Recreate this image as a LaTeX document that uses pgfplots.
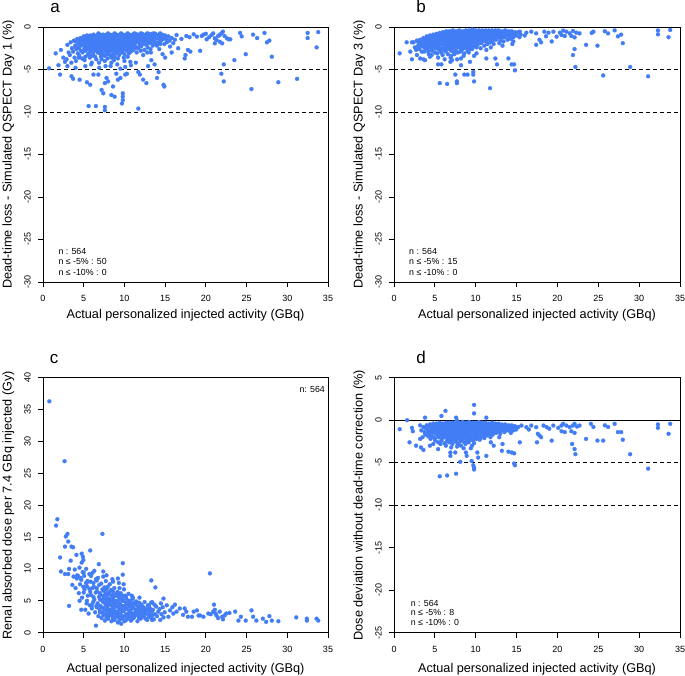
\documentclass[border=0pt]{standalone}
\usepackage{fontspec}
\setmainfont{Liberation Sans}
\usepackage{pgfplots}
\pgfplotsset{compat=1.18}
\usepackage{pgfplotstable}
\definecolor{pt}{RGB}{66,125,245}

% Panel a
\pgfplotstableread[row sep=\\]{x y\\
0.74 -4.86\\ 1.56 -3.1\\ 1.9 -4.5\\ 2.2 -2.7\\ 2.1 -5.6\\ 2.7 -4.1\\ 2.5 -3.6\\ 3.0 -4.6\\ 3.5 -5.8\\ 3.7 -6.1\\ 4.0 -4.8\\ 4.5 -6.2\\ 5.2 -4.6\\ 5.4 -6.5\\ 5.8 -6.8\\ 5.6 -9.3\\ 6.5 -9.3\\ 6.2 -5.6\\ 6.8 -5.6\\ 6.0 -4.2\\ 6.9 -4.8\\ 7.2 -7.4\\ 7.4 -7.8\\ 7.8 -6.0\\ 8.0 -6.4\\ 7.6 -6.6\\ 7.6 -9.4\\ 7.6 -9.8\\ 8.4 -8.0\\ 8.8 -8.2\\ 8.6 -7.0\\ 8.3 -4.6\\ 9.2 -6.2\\ 9.5 -6.0\\ 9.5 -4.9\\ 9.8 -7.8\\ 9.8 -8.2\\ 9.8 -8.6\\ 9.7 -9.0\\ 9.0 -5.5\\ 10.3 -5.5\\ 10.1 -4.7\\ 10.1 -5.6\\ 10.8 -4.5\\ 11.4 -4.2\\ 11.7 -9.6\\ 11.7 -5.3\\ 11.9 -5.6\\ 12.3 -6.2\\ 12.7 -6.6\\ 12.9 -4.6\\ 13.3 -3.9\\ 13.7 -4.4\\ 14.0 -6.0\\ 14.2 -5.3\\ 14.8 -6.8\\ 14.9 -7.0\\ 15.0 -3.6\\ 15.6 -2.3\\ 15.8 -3.0\\ 16.6 -2.5\\ 16.2 -1.5\\ 17.0 -1.4\\ 17.4 -3.7\\ 17.5 -3.3\\ 17.8 -2.7\\ 18.1 -2.9\\ 19.3 -2.8\\ 19.7 -0.9\\ 21.9 -5.5\\ 22.2 -6.4\\ 22.2 -4.4\\ 23.5 -3.9\\ 24.9 -3.2\\ 25.6 -7.3\\ 25.8 -0.9\\ 26.3 -1.3\\ 27.2 -0.7\\ 27.5 -1.8\\ 27.8 -1.6\\ 28.1 -3.5\\ 28.9 -6.5\\ 31.2 -6.1\\ 32.5 -0.7\\ 32.5 -1.3\\ 33.6 -2.4\\ 33.8 -0.6\\ 24.2 -0.7\\ 24.4 -1.1\\
16.4 -0.94\\ 17.6 -1.06\\ 18.5 -0.86\\ 18.9 -1.14\\ 19.5 -1.06\\ 20.1 -1.45\\ 20.4 -1.2\\ 20.7 -0.94\\ 20.9 -0.75\\ 21.1 -1.33\\ 21.3 -1.53\\ 21.5 -1.06\\ 21.7 -0.94\\ 21.9 -0.75\\ 22.1 -0.55\\ 22.3 -1.06\\ 22.6 -1.33\\ 22.8 -1.45\\ 21.1 -1.92\\ 22.0 -1.92\\ 21.7 -1.73\\ 23.0 -1.45\\ 18.0 -1.2\\ 20.0 -0.8\\
3.0 -2.1\\ 3.15 -3.0\\ 2.9 -3.8\\ 3.4 -1.8\\ 3.55 -2.5\\ 3.3 -3.3\\ 3.48 -4.2\\ 3.8 -1.6\\ 3.95 -2.2\\ 3.7 -2.9\\ 3.88 -3.6\\ 4.2 -1.4\\ 4.35 -2.0\\ 4.1 -2.6\\ 4.28 -3.1\\ 4.05 -4.0\\ 4.6 -1.3\\ 4.75 -1.8\\ 4.5 -2.3\\ 4.68 -2.8\\ 4.45 -3.4\\ 5.0 -1.1\\ 5.15 -1.5\\ 4.9 -2.0\\ 5.08 -2.5\\ 4.85 -3.0\\ 5.1 -3.9\\ 5.4 -1.0\\ 5.55 -1.4\\ 5.3 -1.9\\ 5.48 -2.3\\ 5.25 -2.7\\ 5.5 -3.3\\ 5.8 -1.0\\ 5.95 -1.3\\ 5.7 -1.7\\ 5.88 -2.1\\ 5.65 -2.5\\ 5.9 -2.9\\ 5.75 -3.6\\ 5.92 -4.4\\ 6.2 -0.9\\ 6.35 -1.2\\ 6.1 -1.6\\ 6.28 -2.0\\ 6.05 -2.4\\ 6.3 -2.8\\ 6.15 -3.2\\ 6.6 -1.0\\ 6.75 -1.3\\ 6.5 -1.7\\ 6.68 -2.1\\ 6.45 -2.5\\ 6.7 -3.0\\ 6.55 -3.8\\ 7.0 -0.9\\ 7.15 -1.2\\ 6.9 -1.5\\ 7.08 -1.9\\ 6.85 -2.3\\ 7.1 -2.7\\ 6.95 -3.1\\ 7.12 -3.5\\ 6.88 -4.2\\ 7.4 -0.9\\ 7.55 -1.3\\ 7.3 -1.6\\ 7.48 -2.0\\ 7.25 -2.4\\ 7.5 -2.8\\ 7.35 -3.3\\ 7.8 -0.9\\ 7.95 -1.2\\ 7.7 -1.5\\ 7.88 -1.8\\ 7.65 -2.2\\ 7.9 -2.6\\ 7.75 -3.0\\ 7.92 -3.7\\ 7.68 -4.6\\ 8.2 -0.9\\ 8.35 -1.1\\ 8.1 -1.4\\ 8.28 -1.7\\ 8.05 -2.1\\ 8.3 -2.5\\ 8.15 -2.9\\ 8.32 -3.4\\ 8.6 -0.9\\ 8.75 -1.2\\ 8.5 -1.6\\ 8.68 -2.0\\ 8.45 -2.4\\ 8.7 -2.8\\ 8.55 -3.2\\ 8.72 -3.9\\ 9.0 -0.9\\ 9.15 -1.1\\ 8.9 -1.4\\ 9.08 -1.8\\ 8.85 -2.2\\ 9.1 -2.6\\ 8.95 -3.1\\ 9.12 -4.4\\ 9.4 -0.9\\ 9.55 -1.2\\ 9.3 -1.5\\ 9.48 -1.9\\ 9.25 -2.3\\ 9.5 -2.7\\ 9.35 -3.3\\ 9.8 -0.9\\ 9.95 -1.1\\ 9.7 -1.4\\ 9.88 -1.7\\ 9.65 -2.1\\ 9.9 -2.5\\ 9.75 -2.9\\ 9.92 -3.6\\ 10.2 -0.9\\ 10.35 -1.2\\ 10.1 -1.6\\ 10.28 -2.0\\ 10.05 -2.4\\ 10.3 -2.8\\ 10.6 -0.9\\ 10.75 -1.1\\ 10.5 -1.4\\ 10.68 -1.8\\ 10.45 -2.2\\ 10.7 -2.6\\ 10.55 -3.1\\ 10.72 -4.1\\ 11.0 -0.9\\ 11.15 -1.2\\ 10.9 -1.5\\ 11.08 -1.9\\ 10.85 -2.3\\ 11.1 -2.7\\ 11.4 -0.8\\ 11.55 -1.1\\ 11.3 -1.4\\ 11.48 -1.8\\ 11.25 -2.2\\ 11.5 -3.0\\ 11.8 -0.9\\ 11.95 -1.2\\ 11.7 -1.6\\ 11.88 -2.0\\ 11.65 -2.5\\ 12.2 -0.8\\ 12.35 -1.1\\ 12.1 -1.4\\ 12.28 -1.8\\ 12.05 -2.3\\ 12.3 -3.3\\ 12.6 -0.9\\ 12.75 -1.2\\ 12.5 -1.6\\ 12.68 -2.1\\ 12.45 -2.7\\ 13.0 -0.8\\ 13.15 -1.1\\ 12.9 -1.5\\ 13.08 -1.9\\ 12.85 -2.4\\ 13.4 -0.8\\ 13.55 -1.2\\ 13.3 -1.6\\ 13.48 -2.2\\ 13.25 -3.0\\ 13.8 -0.8\\ 13.95 -1.1\\ 13.7 -1.5\\ 13.88 -2.0\\ 14.2 -0.9\\ 14.35 -1.3\\ 14.1 -1.8\\ 14.28 -2.6\\ 14.6 -0.9\\ 14.75 -1.2\\ 14.5 -1.6\\ 14.68 -3.2\\ 15.0 -1.0\\ 15.15 -1.4\\ 14.9 -2.0\\ 15.4 -1.1\\ 15.55 -1.6\\
4.0 -1.7\\ 4.0 -2.35\\ 4.4 -1.6\\ 4.4 -2.5\\ 4.4 -3.6\\ 4.8 -1.5\\ 4.8 -2.1\\ 4.8 -3.7\\ 5.2 -1.3\\ 5.2 -1.75\\ 5.2 -2.2\\ 5.2 -2.8\\ 5.2 -3.5\\ 5.6 -1.15\\ 5.6 -1.6\\ 5.6 -2.05\\ 5.6 -2.6\\ 5.6 -3.1\\ 6.0 -1.1\\ 6.0 -1.45\\ 6.0 -1.85\\ 6.0 -2.25\\ 6.0 -2.7\\ 6.0 -3.4\\ 6.4 -1.05\\ 6.4 -1.4\\ 6.4 -1.8\\ 6.4 -2.25\\ 6.4 -2.65\\ 6.4 -3.5\\ 6.8 -0.75\\ 6.8 -1.1\\ 6.8 -1.5\\ 6.8 -1.9\\ 6.8 -2.4\\ 6.8 -2.8\\ 7.2 -1.05\\ 7.2 -1.4\\ 7.2 -1.75\\ 7.2 -2.15\\ 7.2 -2.55\\ 7.2 -3.0\\ 7.2 -3.8\\ 7.6 -1.1\\ 7.6 -1.45\\ 7.6 -1.85\\ 7.6 -2.25\\ 7.6 -2.65\\ 7.6 -3.4\\ 7.6 -4.0\\ 8.0 -0.75\\ 8.0 -1.05\\ 8.0 -1.35\\ 8.0 -1.65\\ 8.0 -2.0\\ 8.0 -2.4\\ 8.0 -2.8\\ 8.0 -3.2\\ 8.4 -1.0\\ 8.4 -1.3\\ 8.4 -1.6\\ 8.4 -1.95\\ 8.4 -2.3\\ 8.4 -2.7\\ 8.4 -3.6\\ 8.4 -4.2\\ 8.8 -0.75\\ 8.8 -1.05\\ 8.8 -1.4\\ 8.8 -1.8\\ 8.8 -2.2\\ 8.8 -2.6\\ 8.8 -3.5\\ 9.2 -1.0\\ 9.2 -1.3\\ 9.2 -1.65\\ 9.2 -2.05\\ 9.2 -2.45\\ 9.2 -2.85\\ 9.2 -3.7\\ 9.6 -0.75\\ 9.6 -1.05\\ 9.6 -1.35\\ 9.6 -1.7\\ 9.6 -2.1\\ 9.6 -2.5\\ 9.6 -3.0\\ 10.0 -1.0\\ 10.0 -1.35\\ 10.0 -1.8\\ 10.0 -2.2\\ 10.0 -2.6\\ 10.0 -3.2\\ 10.0 -4.0\\ 10.4 -0.75\\ 10.4 -1.05\\ 10.4 -1.4\\ 10.4 -1.8\\ 10.4 -2.5\\ 10.4 -3.5\\ 10.8 -1.0\\ 10.8 -1.3\\ 10.8 -1.65\\ 10.8 -2.05\\ 10.8 -2.9\\ 11.2 -0.75\\ 11.2 -1.05\\ 11.2 -1.4\\ 11.2 -1.7\\ 11.2 -2.05\\ 11.2 -2.5\\ 11.6 -0.95\\ 11.6 -1.3\\ 11.6 -1.65\\ 11.6 -2.4\\ 12.0 -0.75\\ 12.0 -1.05\\ 12.0 -1.4\\ 12.0 -1.8\\ 12.0 -2.8\\ 12.4 -0.95\\ 12.4 -1.3\\ 12.4 -2.0\\ 12.8 -0.75\\ 12.8 -1.05\\ 12.8 -1.35\\ 12.8 -1.7\\ 12.8 -3.0\\ 13.2 -0.95\\ 13.2 -1.35\\ 13.2 -1.8\\ 13.2 -2.6\\ 13.6 -0.75\\ 13.6 -1.0\\ 13.6 -1.4\\ 13.6 -1.8\\ 14.0 -1.0\\ 14.0 -1.3\\ 14.0 -2.2\\ 14.4 -0.75\\ 14.4 -1.1\\ 14.4 -1.5\\ 14.4 -2.0\\ 14.8 -1.0\\ 14.8 -1.4\\ 15.2 -1.2\\ 15.2 -1.8\\ 15.8 -1.3\\ 16.0 -1.9\\
}\tA

% Panel b
\pgfplotstableread[row sep=\\]{x y\\
0.7 -3.1\\ 1.55 -1.8\\ 2.2 -1.8\\ 2.0 -2.9\\ 2.2 -3.8\\ 2.8 -3.3\\ 3.2 -3.7\\ 3.6 -3.8\\ 3.8 -3.9\\ 4.4 -3.5\\ 4.6 -3.3\\ 5.4 -4.4\\ 5.8 -4.4\\ 5.6 -6.6\\ 6.5 -6.7\\ 6.9 -4.1\\ 7.1 -3.9\\ 7.5 -5.6\\ 7.7 -6.4\\ 7.7 -6.6\\ 8.2 -4.5\\ 8.6 -5.6\\ 9.0 -5.6\\ 9.3 -4.1\\ 9.7 -5.3\\ 9.7 -5.6\\ 9.8 -6.4\\ 10.1 -3.1\\ 11.3 -3.7\\ 11.3 -2.7\\ 11.75 -7.2\\ 12.4 -3.7\\ 12.6 -4.4\\ 14.0 -3.7\\ 14.4 -4.4\\ 14.7 -4.4\\ 14.8 -5.1\\
17.4 -2.1\\ 17.8 -1.5\\ 18.0 -1.8\\ 19.3 -1.7\\ 21.9 -3.3\\ 22.1 -2.6\\ 22.2 -4.7\\ 23.5 -2.1\\ 24.9 -2.2\\ 25.6 -5.7\\ 25.8 -0.5\\ 26.2 -0.75\\ 27.0 -0.4\\ 27.4 -1.1\\ 27.8 -0.9\\ 28.0 -1.9\\ 28.9 -4.7\\ 31.1 -5.8\\ 32.3 -0.4\\ 32.3 -0.86\\ 33.6 -1.2\\ 33.8 -0.35\\ 24.4 -0.55\\ 24.2 -0.7\\
15.4 -0.55\\ 16.2 -0.67\\ 16.8 -0.55\\ 17.4 -0.75\\ 18.4 -0.55\\ 18.9 -0.67\\ 19.5 -0.55\\ 19.9 -1.14\\ 20.3 -0.67\\ 20.5 -0.94\\ 20.7 -0.43\\ 20.9 -1.06\\ 21.1 -0.55\\ 21.5 -0.75\\ 21.7 -1.06\\ 21.9 -0.47\\ 22.1 -1.22\\ 22.3 -0.67\\ 22.7 -0.75\\ 16.0 -1.0\\ 18.6 -1.1\\
2.4 -1.8\\ 2.55 -2.4\\ 2.8 -1.6\\ 2.95 -2.2\\ 2.7 -2.7\\ 3.2 -1.5\\ 3.35 -2.0\\ 3.1 -2.6\\ 3.6 -1.3\\ 3.75 -1.8\\ 3.5 -2.3\\ 3.68 -2.9\\ 4.0 -1.1\\ 4.15 -1.6\\ 3.9 -2.1\\ 4.08 -2.6\\ 4.4 -1.0\\ 4.55 -1.4\\ 4.3 -1.9\\ 4.48 -2.4\\ 4.25 -3.2\\ 4.8 -0.9\\ 4.95 -1.3\\ 4.7 -1.7\\ 4.88 -2.2\\ 4.65 -2.8\\ 5.2 -0.8\\ 5.35 -1.1\\ 5.1 -1.5\\ 5.28 -2.0\\ 5.05 -2.5\\ 5.3 -3.1\\ 5.6 -0.7\\ 5.75 -1.0\\ 5.5 -1.4\\ 5.68 -1.8\\ 5.45 -2.3\\ 5.7 -2.8\\ 6.0 -0.6\\ 6.15 -0.9\\ 5.9 -1.2\\ 6.08 -1.6\\ 5.85 -2.0\\ 6.1 -2.5\\ 5.95 -3.3\\ 6.4 -0.5\\ 6.55 -0.8\\ 6.3 -1.1\\ 6.48 -1.5\\ 6.25 -1.9\\ 6.5 -2.3\\ 6.35 -2.9\\ 6.8 -0.5\\ 6.95 -0.8\\ 6.7 -1.1\\ 6.88 -1.4\\ 6.65 -1.8\\ 6.9 -2.2\\ 6.75 -2.6\\ 6.92 -3.6\\ 7.2 -0.4\\ 7.35 -0.7\\ 7.1 -1.0\\ 7.28 -1.3\\ 7.05 -1.7\\ 7.3 -2.1\\ 7.15 -2.5\\ 7.32 -3.0\\ 7.6 -0.5\\ 7.75 -0.8\\ 7.5 -1.1\\ 7.68 -1.4\\ 7.45 -1.8\\ 7.7 -2.2\\ 7.55 -2.7\\ 7.72 -3.8\\ 8.0 -0.4\\ 8.15 -0.7\\ 7.9 -1.0\\ 8.08 -1.3\\ 7.85 -1.6\\ 8.1 -2.0\\ 7.95 -2.4\\ 8.12 -2.9\\ 8.4 -0.5\\ 8.55 -0.8\\ 8.3 -1.1\\ 8.48 -1.4\\ 8.25 -1.8\\ 8.5 -2.2\\ 8.35 -2.6\\ 8.52 -3.4\\ 8.8 -0.4\\ 8.95 -0.7\\ 8.7 -1.0\\ 8.88 -1.3\\ 8.65 -1.7\\ 8.9 -2.1\\ 8.75 -2.5\\ 9.2 -0.4\\ 9.35 -0.7\\ 9.1 -1.0\\ 9.28 -1.4\\ 9.05 -1.8\\ 9.3 -2.3\\ 9.15 -3.0\\ 9.6 -0.3\\ 9.75 -0.6\\ 9.5 -0.9\\ 9.68 -1.2\\ 9.45 -1.6\\ 9.7 -2.0\\ 9.55 -2.6\\ 10.0 -0.4\\ 10.15 -0.7\\ 9.9 -1.0\\ 10.08 -1.4\\ 9.85 -1.8\\ 10.1 -2.4\\ 10.4 -0.4\\ 10.55 -0.7\\ 10.3 -1.1\\ 10.48 -1.5\\ 10.25 -2.0\\ 10.8 -0.4\\ 10.95 -0.7\\ 10.7 -1.0\\ 10.88 -1.4\\ 10.65 -1.9\\ 11.2 -0.4\\ 11.35 -0.7\\ 11.1 -1.1\\ 11.28 -1.6\\ 11.05 -2.2\\ 11.6 -0.4\\ 11.75 -0.7\\ 11.5 -1.0\\ 11.68 -1.4\\ 11.45 -2.0\\ 12.0 -0.4\\ 12.15 -0.7\\ 11.9 -1.1\\ 12.08 -1.6\\ 11.85 -2.4\\ 12.4 -0.4\\ 12.55 -0.7\\ 12.3 -1.0\\ 12.48 -1.5\\ 12.8 -0.4\\ 12.95 -0.8\\ 12.7 -1.2\\ 12.88 -1.9\\ 13.2 -0.5\\ 13.35 -0.8\\ 13.1 -1.3\\ 13.28 -2.2\\ 13.6 -0.4\\ 13.75 -0.8\\ 13.5 -1.2\\ 14.0 -0.5\\ 14.15 -0.9\\ 13.9 -1.5\\ 14.4 -0.5\\ 14.55 -0.9\\ 14.3 -1.4\\ 14.48 -2.0\\ 14.8 -0.6\\ 14.95 -1.0\\ 15.2 -0.6\\ 15.35 -1.2\\
3.0 -1.8\\ 3.0 -2.3\\ 3.4 -1.6\\ 3.4 -2.2\\ 3.4 -2.9\\ 3.8 -1.5\\ 3.8 -2.0\\ 3.8 -2.5\\ 4.2 -1.3\\ 4.2 -1.8\\ 4.2 -2.3\\ 4.2 -2.9\\ 4.6 -1.2\\ 4.6 -1.6\\ 4.6 -2.1\\ 4.6 -2.6\\ 5.0 -1.0\\ 5.0 -1.4\\ 5.0 -1.85\\ 5.0 -2.3\\ 5.0 -3.0\\ 5.4 -0.9\\ 5.4 -1.25\\ 5.4 -1.7\\ 5.4 -2.15\\ 5.4 -2.6\\ 5.4 -3.6\\ 5.8 -0.8\\ 5.8 -1.15\\ 5.8 -1.55\\ 5.8 -2.0\\ 5.8 -2.5\\ 5.8 -3.0\\ 6.2 -0.7\\ 6.2 -1.0\\ 6.2 -1.4\\ 6.2 -1.8\\ 6.2 -2.2\\ 6.2 -2.7\\ 6.2 -3.8\\ 6.6 -0.6\\ 6.6 -0.95\\ 6.6 -1.3\\ 6.6 -1.65\\ 6.6 -2.05\\ 6.6 -2.5\\ 6.6 -3.2\\ 7.0 -0.55\\ 7.0 -0.9\\ 7.0 -1.2\\ 7.0 -1.55\\ 7.0 -1.95\\ 7.0 -2.35\\ 7.0 -2.8\\ 7.0 -3.4\\ 7.4 -0.6\\ 7.4 -0.9\\ 7.4 -1.25\\ 7.4 -1.6\\ 7.4 -2.0\\ 7.4 -2.4\\ 7.4 -3.2\\ 7.8 -0.55\\ 7.8 -0.85\\ 7.8 -1.2\\ 7.8 -1.55\\ 7.8 -1.95\\ 7.8 -2.35\\ 7.8 -3.0\\ 8.2 -0.6\\ 8.2 -0.9\\ 8.2 -1.25\\ 8.2 -1.6\\ 8.2 -2.0\\ 8.2 -2.4\\ 8.2 -2.8\\ 8.2 -3.7\\ 8.6 -0.55\\ 8.6 -0.9\\ 8.6 -1.2\\ 8.6 -1.55\\ 8.6 -1.95\\ 8.6 -2.4\\ 8.6 -3.1\\ 9.0 -0.55\\ 9.0 -0.85\\ 9.0 -1.2\\ 9.0 -1.55\\ 9.0 -1.95\\ 9.0 -2.4\\ 9.0 -2.8\\ 9.4 -0.5\\ 9.4 -0.85\\ 9.4 -1.15\\ 9.4 -1.5\\ 9.4 -2.0\\ 9.4 -2.6\\ 9.8 -0.45\\ 9.8 -0.75\\ 9.8 -1.1\\ 9.8 -1.45\\ 9.8 -1.85\\ 9.8 -2.3\\ 9.8 -3.4\\ 10.2 -0.55\\ 10.2 -0.85\\ 10.2 -1.2\\ 10.2 -1.6\\ 10.2 -2.1\\ 10.6 -0.55\\ 10.6 -0.9\\ 10.6 -1.3\\ 10.6 -1.75\\ 10.6 -2.5\\ 11.0 -0.55\\ 11.0 -0.85\\ 11.0 -1.2\\ 11.0 -1.65\\ 11.4 -0.55\\ 11.4 -0.9\\ 11.4 -1.3\\ 11.4 -1.8\\ 11.8 -0.55\\ 11.8 -0.85\\ 11.8 -1.25\\ 11.8 -1.8\\ 12.2 -0.55\\ 12.2 -0.9\\ 12.2 -1.3\\ 12.2 -2.0\\ 12.6 -0.55\\ 12.6 -0.85\\ 12.6 -1.25\\ 13.0 -0.6\\ 13.0 -1.0\\ 13.0 -1.6\\ 13.4 -0.6\\ 13.4 -1.0\\ 13.4 -1.7\\ 13.8 -0.65\\ 13.8 -1.05\\ 14.2 -0.7\\ 14.2 -1.2\\ 14.6 -0.75\\ 14.6 -1.2\\ 14.6 -1.7\\ 15.0 -0.8\\ 15.5 -0.9\\
}\tB

% Panel c
\pgfplotstableread[row sep=\\]{x y\\
0.78 36.3\\ 2.65 26.9\\ 1.76 17.8\\ 1.6 16.8\\ 2.8 15.1\\ 3.0 15.5\\ 3.1 14.3\\ 2.7 13.5\\ 3.5 13.5\\ 3.7 13.4\\ 5.8 12.9\\ 7.3 15.5\\ 2.1 11.8\\ 4.1 12.2\\ 4.75 12.4\\ 4.9 11.9\\ 4.95 11.4\\ 4.75 11.0\\ 3.4 11.3\\ 3.2 10.0\\ 2.2 9.6\\ 2.7 9.2\\ 3.1 9.2\\ 9.8 10.9\\ 9.8 9.1\\ 6.85 10.75\\ 7.4 9.6\\ 3.2 4.2\\ 4.5 5.0\\ 4.7 3.6\\ 6.5 1.1\\ 13.3 8.2\\ 13.8 7.1\\ 20.5 9.3\\ 21.0 4.4\\ 14.8 5.35\\ 16.2 4.4\\
17.6 3.3\\ 18.3 2.5\\ 18.9 3.5\\ 19.3 2.7\\ 19.7 2.5\\ 20.3 3.0\\ 20.9 3.3\\ 21.3 2.7\\ 21.7 3.3\\ 22.1 2.1\\ 22.3 2.7\\ 22.5 3.0\\ 22.9 3.1\\ 23.6 3.3\\ 24.0 1.9\\ 24.3 2.5\\ 24.9 1.9\\ 25.6 3.5\\ 25.8 2.5\\ 26.2 1.9\\ 27.0 2.2\\ 27.4 1.7\\ 27.8 2.6\\ 28.1 1.9\\ 28.9 1.8\\ 31.1 2.4\\ 32.4 2.2\\ 32.4 1.9\\ 33.6 2.2\\ 33.8 1.9\\ 15.2 4.3\\ 15.6 3.5\\ 15.9 4.0\\ 16.4 3.3\\ 16.8 3.8\\ 17.2 2.8\\ 17.4 3.8\\ 17.8 2.5\\ 18.5 3.3\\ 19.1 2.7\\ 15.4 2.5\\ 16.0 3.0\\ 20.6 2.9\\ 21.1 3.6\\ 21.5 2.3\\ 22.0 2.5\\ 21.2 3.0\\
4.2 9.0\\ 4.6 8.6\\ 5.0 9.4\\ 5.5 8.0\\ 5.9 8.9\\ 6.3 9.7\\ 6.6 8.2\\ 7.4 8.8\\ 7.8 9.0\\ 8.6 8.0\\ 9.2 8.5\\ 9.9 7.6\\
3.6 7.5\\ 3.75 8.8\\ 4.0 7.0\\ 4.15 8.5\\ 3.9 9.9\\ 4.4 6.2\\ 4.55 7.6\\ 4.3 8.9\\ 4.48 10.2\\ 4.8 5.5\\ 4.95 7.2\\ 4.7 8.3\\ 4.88 9.5\\ 5.2 3.6\\ 5.35 4.6\\ 5.1 6.8\\ 5.28 7.8\\ 5.05 8.9\\ 5.3 10.0\\ 5.6 3.0\\ 5.75 4.3\\ 5.5 5.8\\ 5.68 6.9\\ 5.45 8.1\\ 5.7 9.2\\ 6.0 3.8\\ 6.15 4.8\\ 5.9 5.9\\ 6.08 7.0\\ 5.85 8.0\\ 6.1 9.4\\ 6.4 3.2\\ 6.55 4.2\\ 6.3 5.2\\ 6.48 6.3\\ 6.25 7.2\\ 6.5 8.4\\ 6.8 2.6\\ 6.95 3.6\\ 6.7 4.6\\ 6.88 5.6\\ 6.65 6.5\\ 6.9 7.5\\ 6.75 8.6\\ 7.2 2.3\\ 7.35 3.2\\ 7.1 4.1\\ 7.28 5.0\\ 7.05 5.9\\ 7.3 6.8\\ 7.15 7.7\\ 7.6 1.9\\ 7.75 2.8\\ 7.5 3.7\\ 7.68 4.5\\ 7.45 5.4\\ 7.7 6.2\\ 7.55 7.1\\ 7.72 8.1\\ 8.0 2.2\\ 8.15 3.0\\ 7.9 3.9\\ 8.08 4.7\\ 7.85 5.5\\ 8.1 6.3\\ 7.95 7.2\\ 8.4 1.8\\ 8.55 2.6\\ 8.3 3.4\\ 8.48 4.2\\ 8.25 5.0\\ 8.5 5.8\\ 8.35 6.7\\ 8.52 8.4\\ 8.8 2.0\\ 8.95 2.8\\ 8.7 3.6\\ 8.88 4.4\\ 8.65 5.2\\ 8.9 6.0\\ 8.75 7.0\\ 9.2 1.6\\ 9.35 2.4\\ 9.1 3.2\\ 9.28 4.0\\ 9.05 4.8\\ 9.3 5.6\\ 9.15 6.4\\ 9.32 7.8\\ 9.6 1.4\\ 9.75 2.2\\ 9.5 3.0\\ 9.68 3.8\\ 9.45 4.6\\ 9.7 5.4\\ 9.55 6.2\\ 10.0 1.8\\ 10.15 2.6\\ 9.9 3.4\\ 10.08 4.2\\ 9.85 5.0\\ 10.1 5.8\\ 9.95 6.8\\ 10.4 2.2\\ 10.55 3.0\\ 10.3 3.7\\ 10.48 4.5\\ 10.25 5.3\\ 10.5 6.1\\ 10.8 1.9\\ 10.95 2.7\\ 10.7 3.5\\ 10.88 4.3\\ 10.65 5.0\\ 10.9 5.8\\ 11.2 2.4\\ 11.35 3.2\\ 11.1 3.9\\ 11.28 4.7\\ 11.05 5.5\\ 11.6 1.8\\ 11.75 2.6\\ 11.5 3.4\\ 11.68 4.1\\ 11.45 4.9\\ 12.0 2.2\\ 12.15 3.0\\ 11.9 3.7\\ 12.08 4.4\\ 11.85 5.5\\ 12.4 2.5\\ 12.55 3.3\\ 12.3 4.0\\ 12.48 4.8\\ 12.8 2.0\\ 12.95 2.8\\ 12.7 3.6\\ 12.88 4.3\\ 13.2 2.4\\ 13.35 3.1\\ 13.1 3.9\\ 13.28 4.7\\ 13.6 2.1\\ 13.75 2.9\\ 13.5 3.6\\ 13.68 4.4\\ 14.0 2.6\\ 14.15 3.3\\ 13.9 4.1\\ 14.4 2.0\\ 14.55 2.9\\ 14.3 3.7\\ 14.48 4.6\\ 14.8 2.4\\ 14.95 3.2\\ 14.7 4.0\\
7.0 3.2\\ 7.0 4.2\\ 7.0 5.2\\ 7.0 6.2\\ 7.4 2.8\\ 7.4 3.9\\ 7.4 4.8\\ 7.4 5.8\\ 7.4 6.6\\ 7.8 2.4\\ 7.8 3.4\\ 7.8 4.3\\ 7.8 5.1\\ 7.8 6.0\\ 7.8 6.8\\ 8.2 2.7\\ 8.2 3.6\\ 8.2 4.4\\ 8.2 5.3\\ 8.2 6.0\\ 8.2 7.6\\ 8.6 2.3\\ 8.6 3.1\\ 8.6 3.9\\ 8.6 4.7\\ 8.6 5.6\\ 8.6 6.4\\ 9.0 2.5\\ 9.0 3.3\\ 9.0 4.1\\ 9.0 5.0\\ 9.0 5.8\\ 9.4 2.0\\ 9.4 2.8\\ 9.4 3.6\\ 9.4 4.4\\ 9.4 5.2\\ 9.4 6.0\\ 9.4 7.0\\ 9.8 2.6\\ 9.8 3.4\\ 9.8 4.2\\ 9.8 5.0\\ 9.8 5.8\\ 10.2 2.0\\ 10.2 2.9\\ 10.2 3.8\\ 10.2 4.7\\ 10.2 5.6\\ 10.6 2.5\\ 10.6 3.3\\ 10.6 4.1\\ 10.6 4.9\\ 11.0 2.2\\ 11.0 3.0\\ 11.0 3.8\\ 11.0 4.6\\ 11.0 5.3\\ 11.4 2.8\\ 11.4 3.6\\ 11.4 4.4\\ 11.8 2.3\\ 11.8 3.1\\ 11.8 3.9\\ 11.8 4.7\\ 12.2 2.6\\ 12.2 3.4\\ 12.2 4.1\\ 12.6 2.2\\ 12.6 3.0\\ 12.6 3.8\\ 13.0 2.6\\ 13.0 3.4\\ 13.0 4.3\\ 13.4 2.0\\ 13.4 2.7\\ 13.4 3.5\\ 13.4 4.8\\ 5.4 5.0\\ 5.8 6.4\\ 6.2 5.6\\ 6.2 7.8\\ 6.6 4.0\\ 6.6 7.0\\ 5.0 6.3\\ 5.4 7.3\\ 6.0 4.3\\
}\tC

% Panel d
\pgfplotstableread[row sep=\\]{x y\\
0.7 -1.06\\ 1.6 0.0\\ 1.9 -2.6\\ 2.2 -0.9\\ 2.3 -1.3\\ 2.7 -3.0\\ 3.2 -2.2\\ 3.3 -3.2\\ 3.6 -3.5\\ 3.8 0.3\\ 4.4 -3.0\\ 4.8 -2.8\\ 5.4 -3.4\\ 5.8 0.5\\ 6.3 1.1\\ 5.6 -6.6\\ 6.5 -6.5\\ 6.9 -3.8\\ 6.9 -4.2\\ 7.5 -3.8\\ 7.6 0.3\\ 7.7 0.0\\ 7.6 -6.3\\ 8.1 -4.9\\ 8.8 -3.8\\ 8.9 -4.2\\ 9.5 -4.8\\ 9.7 -5.3\\ 9.8 -5.6\\ 9.8 -5.8\\ 9.8 1.8\\ 9.8 0.8\\ 10.2 -3.8\\ 10.3 -4.4\\ 11.3 0.3\\ 11.3 -4.2\\ 12.2 -3.0\\ 13.2 -3.6\\ 14.0 -3.7\\ 14.4 -3.8\\ 14.7 -3.9\\ 14.7 -5.1\\ 14.8 -5.3\\ 15.4 -2.6\\ 17.5 -2.6\\ 17.6 -1.6\\ 17.8 -1.8\\ 18.0 -2.0\\ 19.3 -2.4\\ 21.8 -2.8\\ 22.1 -3.4\\ 22.2 -4.0\\ 23.5 -2.2\\ 24.9 -2.4\\ 25.6 -2.4\\ 24.1 -0.43\\ 24.4 -0.8\\ 25.8 -0.6\\ 26.2 -0.8\\ 27.0 -0.43\\ 27.4 -1.4\\ 27.8 -1.4\\ 28.0 -2.3\\ 28.9 -4.0\\ 31.1 -5.7\\ 32.3 -0.5\\ 32.3 -0.9\\ 33.6 -1.6\\ 33.8 -0.43\\
15.6 -0.63\\ 16.2 -0.82\\ 16.8 -0.63\\ 17.4 -0.82\\ 18.3 -0.63\\ 18.7 -0.82\\ 19.5 -0.63\\ 20.1 -0.9\\ 20.5 -0.63\\ 20.7 -0.43\\ 21.1 -0.63\\ 21.5 -0.82\\ 21.9 -0.63\\ 22.1 -0.43\\ 22.4 -0.75\\ 22.7 -0.63\\ 20.5 -1.3\\ 20.9 -1.4\\ 21.7 -1.3\\ 22.1 -1.5\\ 16.5 -1.1\\ 19.0 -1.0\\
3.2 -0.6\\ 3.35 -1.2\\ 3.6 -0.8\\ 3.75 -1.4\\ 3.5 -2.0\\ 4.0 -0.6\\ 4.15 -1.1\\ 3.9 -1.7\\ 4.4 -0.5\\ 4.55 -1.0\\ 4.3 -1.6\\ 4.48 -2.2\\ 4.8 -0.4\\ 4.95 -0.9\\ 4.7 -1.4\\ 4.88 -2.0\\ 5.2 -0.4\\ 5.35 -0.8\\ 5.1 -1.2\\ 5.28 -1.7\\ 5.05 -2.4\\ 5.6 -0.3\\ 5.75 -0.7\\ 5.5 -1.1\\ 5.68 -1.5\\ 5.45 -2.0\\ 5.7 -2.8\\ 6.0 -0.4\\ 6.15 -0.8\\ 5.9 -1.2\\ 6.08 -1.6\\ 5.85 -2.2\\ 6.4 -0.3\\ 6.55 -0.7\\ 6.3 -1.0\\ 6.48 -1.4\\ 6.25 -1.8\\ 6.5 -2.4\\ 6.35 -3.0\\ 6.8 -0.3\\ 6.95 -0.6\\ 6.7 -1.0\\ 6.88 -1.3\\ 6.65 -1.7\\ 6.9 -2.1\\ 6.75 -2.6\\ 7.2 -0.3\\ 7.35 -0.7\\ 7.1 -1.0\\ 7.28 -1.4\\ 7.05 -1.8\\ 7.3 -2.2\\ 7.15 -2.8\\ 7.6 -0.2\\ 7.75 -0.6\\ 7.5 -0.9\\ 7.68 -1.3\\ 7.45 -1.6\\ 7.7 -2.0\\ 7.55 -2.5\\ 7.72 -3.1\\ 8.0 -0.3\\ 8.15 -0.7\\ 7.9 -1.0\\ 8.08 -1.4\\ 7.85 -1.8\\ 8.1 -2.2\\ 7.95 -2.7\\ 8.4 -0.2\\ 8.55 -0.6\\ 8.3 -0.9\\ 8.48 -1.3\\ 8.25 -1.7\\ 8.5 -2.1\\ 8.35 -2.4\\ 8.52 -3.3\\ 8.8 -0.3\\ 8.95 -0.6\\ 8.7 -1.0\\ 8.88 -1.4\\ 8.65 -1.8\\ 8.9 -2.3\\ 8.75 -2.8\\ 9.2 -0.2\\ 9.35 -0.6\\ 9.1 -0.9\\ 9.28 -1.3\\ 9.05 -1.7\\ 9.3 -2.1\\ 9.15 -2.6\\ 9.6 -0.3\\ 9.75 -0.7\\ 9.5 -1.0\\ 9.68 -1.4\\ 9.45 -1.9\\ 9.7 -2.4\\ 9.55 -3.0\\ 10.0 -0.3\\ 10.15 -0.6\\ 9.9 -1.0\\ 10.08 -1.4\\ 9.85 -1.8\\ 10.1 -2.2\\ 10.4 -0.2\\ 10.55 -0.6\\ 10.3 -0.9\\ 10.48 -1.3\\ 10.25 -1.7\\ 10.5 -2.3\\ 10.8 -0.3\\ 10.95 -0.6\\ 10.7 -1.0\\ 10.88 -1.4\\ 10.65 -1.9\\ 11.2 -0.3\\ 11.35 -0.6\\ 11.1 -1.0\\ 11.28 -1.5\\ 11.05 -2.1\\ 11.6 -0.4\\ 11.75 -0.7\\ 11.5 -1.1\\ 11.68 -1.6\\ 12.0 -0.3\\ 12.15 -0.7\\ 11.9 -1.1\\ 12.08 -1.7\\ 11.85 -2.6\\ 12.4 -0.4\\ 12.55 -0.7\\ 12.3 -1.1\\ 12.48 -1.5\\ 12.8 -0.4\\ 12.95 -0.8\\ 12.7 -1.2\\ 12.88 -2.0\\ 13.2 -0.5\\ 13.35 -0.8\\ 13.1 -1.2\\ 13.28 -2.8\\ 13.6 -0.5\\ 13.75 -0.9\\ 13.5 -1.4\\ 14.0 -0.6\\ 14.15 -1.0\\ 14.4 -0.6\\ 14.55 -0.9\\ 14.3 -1.5\\ 14.8 -0.7\\ 14.95 -1.1\\ 15.2 -0.8\\
3.8 -0.9\\ 3.8 -1.6\\ 4.2 -0.8\\ 4.2 -1.3\\ 4.2 -1.9\\ 4.6 -0.7\\ 4.6 -1.2\\ 4.6 -1.8\\ 5.0 -0.6\\ 5.0 -1.0\\ 5.0 -1.5\\ 5.0 -2.2\\ 5.4 -0.5\\ 5.4 -0.95\\ 5.4 -1.4\\ 5.4 -1.9\\ 5.4 -2.6\\ 5.8 -0.5\\ 5.8 -0.9\\ 5.8 -1.3\\ 5.8 -1.8\\ 5.8 -2.4\\ 6.2 -0.5\\ 6.2 -0.85\\ 6.2 -1.2\\ 6.2 -1.6\\ 6.2 -2.0\\ 6.2 -2.7\\ 6.6 -0.45\\ 6.6 -0.85\\ 6.6 -1.2\\ 6.6 -1.55\\ 6.6 -2.0\\ 6.6 -2.3\\ 7.0 -0.45\\ 7.0 -0.8\\ 7.0 -1.15\\ 7.0 -1.5\\ 7.0 -1.9\\ 7.0 -2.4\\ 7.0 -3.2\\ 7.4 -0.45\\ 7.4 -0.8\\ 7.4 -1.15\\ 7.4 -1.5\\ 7.4 -1.9\\ 7.4 -2.35\\ 7.8 -0.4\\ 7.8 -0.75\\ 7.8 -1.1\\ 7.8 -1.45\\ 7.8 -1.8\\ 7.8 -2.2\\ 7.8 -2.8\\ 8.2 -0.45\\ 8.2 -0.8\\ 8.2 -1.15\\ 8.2 -1.5\\ 8.2 -1.95\\ 8.2 -2.4\\ 8.2 -3.0\\ 8.6 -0.4\\ 8.6 -0.75\\ 8.6 -1.1\\ 8.6 -1.5\\ 8.6 -1.9\\ 8.6 -2.6\\ 9.0 -0.45\\ 9.0 -0.8\\ 9.0 -1.15\\ 9.0 -1.55\\ 9.0 -2.0\\ 9.0 -2.5\\ 9.4 -0.4\\ 9.4 -0.75\\ 9.4 -1.1\\ 9.4 -1.5\\ 9.4 -1.9\\ 9.4 -2.3\\ 9.4 -3.3\\ 9.8 -0.45\\ 9.8 -0.8\\ 9.8 -1.2\\ 9.8 -1.6\\ 9.8 -2.1\\ 9.8 -2.7\\ 10.2 -0.4\\ 10.2 -0.8\\ 10.2 -1.2\\ 10.2 -1.6\\ 10.2 -2.0\\ 10.6 -0.4\\ 10.6 -0.75\\ 10.6 -1.1\\ 10.6 -1.5\\ 10.6 -2.1\\ 11.0 -0.45\\ 11.0 -0.8\\ 11.0 -1.2\\ 11.0 -1.7\\ 11.4 -0.45\\ 11.4 -0.8\\ 11.4 -1.25\\ 11.4 -1.8\\ 11.8 -0.5\\ 11.8 -0.9\\ 11.8 -1.35\\ 11.8 -2.0\\ 12.2 -0.5\\ 12.2 -0.9\\ 12.2 -1.3\\ 12.6 -0.55\\ 12.6 -0.95\\ 12.6 -1.4\\ 13.0 -0.6\\ 13.0 -1.0\\ 13.0 -1.6\\ 13.4 -0.65\\ 13.4 -1.05\\ 13.8 -0.7\\ 13.8 -1.2\\ 14.2 -0.75\\ 14.2 -1.3\\ 14.6 -0.8\\ 14.6 -1.2\\ 15.0 -0.9\\
}\tD

\pgfplotsset{
  panel/.style={
    scale only axis, anchor=south west, height=255pt,
    xmin=0, xmax=35, xtick={0,5,...,35},
    axis line style={line width=0.9pt, black},
    tick align=outside, xtick pos=left, ytick pos=left,
    major tick length=5pt,
    every tick/.append style={black, line width=0.9pt},
    /pgf/number format/assume math mode=true,
    tick label style={font=\fontsize{9}{10}\selectfont},
    xticklabel style={anchor=north, inner ysep=8pt},
    yticklabel style={rotate=90, anchor=south, inner ysep=7pt},
    label style={font=\fontsize{12.7}{14}\selectfont},
    ylabel style={at={(axis description cs:-0.11,0.5)}, anchor=base},
    clip=false,
  },
  dots/.style={only marks, mark=*, mark size=2pt, color=pt, mark options={draw=pt, line width=0.2pt, fill=pt}},
  hl/.style={black, line width=0.9pt, dash pattern=on 4pt off 3pt},
}
\newcommand{\ann}{\fontsize{8.8}{10}\selectfont}

\begin{document}
\begin{tikzpicture}
\useasboundingbox (0,0) rectangle (685pt,676pt);

\begin{axis}[panel, width=285pt, at={(43pt,394pt)},
  ymin=-30, ymax=0, ytick={-30,-25,...,0},
  xlabel={Actual personalized injected activity (GBq)},
  xlabel style={at={(axis description cs:0.5,-0.145)}, anchor=base},
  ylabel={Dead-time loss - Simulated QSPECT Day 1 (\%)}]
\addplot[hl] coordinates {(0,-5) (35,-5)};
\addplot[hl] coordinates {(0,-10) (35,-10)};
\addplot[dots] table {\tA};
\end{axis}

\begin{axis}[panel, width=286pt, at={(394pt,394pt)},
  ymin=-30, ymax=0, ytick={-30,-25,...,0},
  xlabel={Actual personalized injected activity (GBq)},
  xlabel style={at={(axis description cs:0.5,-0.145)}, anchor=base},
  ylabel={Dead-time loss - Simulated QSPECT Day 3 (\%)}]
\addplot[hl] coordinates {(0,-5) (35,-5)};
\addplot[hl] coordinates {(0,-10) (35,-10)};
\addplot[dots] table {\tB};
\end{axis}

\begin{axis}[panel, width=285pt, at={(43pt,43.3pt)},
  ymin=0, ymax=40, ytick={0,5,...,40},
  xlabel={Actual personalized injected activity (GBq)},
  xlabel style={at={(axis description cs:0.5,-0.157)}, anchor=base},
  ylabel={Renal absorbed dose per 7.4 GBq injected (Gy)}]
\addplot[dots] table {\tC};
\end{axis}

\begin{axis}[panel, width=286pt, at={(394pt,43.3pt)},
  ymin=-25, ymax=5, ytick={-25,-20,...,5},
  xlabel={Actual personalized injected activity (GBq)},
  xlabel style={at={(axis description cs:0.5,-0.157)}, anchor=base},
  ylabel={Dose deviation without dead-time correction (\%)}]
\addplot[black, line width=0.9pt] coordinates {(0,0) (35,0)};
\addplot[hl] coordinates {(0,-5) (35,-5)};
\addplot[hl] coordinates {(0,-10) (35,-10)};
\addplot[dots] table {\tD};
\end{axis}

\node[font=\fontsize{17}{18}\selectfont, anchor=base] at (55pt,663.3pt) {a};
\node[font=\fontsize{17}{18}\selectfont, anchor=base] at (421pt,663.3pt) {b};
\node[font=\fontsize{17}{18}\selectfont, anchor=base] at (54pt,312.7pt) {c};
\node[font=\fontsize{17}{18}\selectfont, anchor=base] at (421pt,312pt) {d};

\node[font=\ann, anchor=base west, inner sep=0pt] at (58.3pt,421.3pt) {n : 564};
\node[font=\ann, anchor=base west, inner sep=0pt] at (58.3pt,411pt) {n ≤ -5\% : 50};
\node[font=\ann, anchor=base west, inner sep=0pt] at (58.3pt,400.7pt) {n ≤ -10\% : 0};

\node[font=\ann, anchor=base west, inner sep=0pt] at (409pt,421.3pt) {n : 564};
\node[font=\ann, anchor=base west, inner sep=0pt] at (409pt,411pt) {n ≤ -5\% : 15};
\node[font=\ann, anchor=base west, inner sep=0pt] at (409pt,400.7pt) {n ≤ -10\% : 0};

\node[font=\ann, anchor=base east, inner sep=0pt] at (325pt,283pt) {n: 564};

\node[font=\ann, anchor=base west, inner sep=0pt] at (410.7pt,69.7pt) {n : 564};
\node[font=\ann, anchor=base west, inner sep=0pt] at (410.7pt,60.3pt) {n ≤ -5\% : 8};
\node[font=\ann, anchor=base west, inner sep=0pt] at (410.7pt,50.3pt) {n ≤ -10\% : 0};
\end{tikzpicture}
\end{document}
